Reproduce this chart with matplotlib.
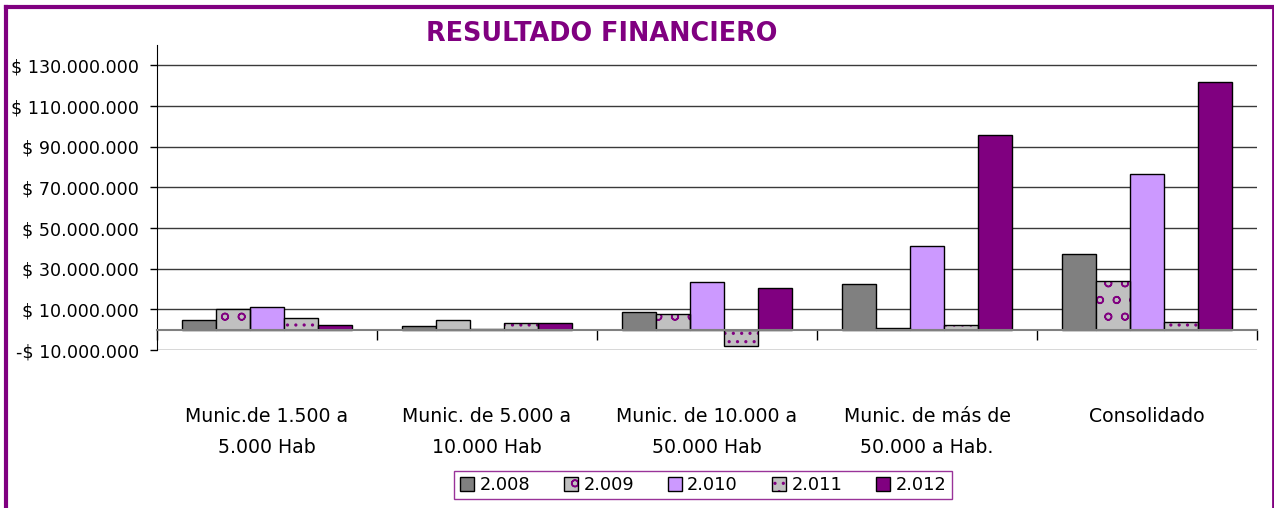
import matplotlib
matplotlib.use("Agg")
import matplotlib.pyplot as plt
import numpy as np
from matplotlib.lines import Line2D
from matplotlib.patches import Patch
from matplotlib.legend_handler import HandlerTuple
from matplotlib.ticker import FuncFormatter

categories = ["Munic.de 1.500 a\n5.000 Hab", "Munic. de 5.000 a\n10.000 Hab",
              "Munic. de 10.000 a\n50.000 Hab", "Munic. de más de\n50.000 a Hab.",
              "Consolidado"]
series_names = ["2.008", "2.009", "2.010", "2.011", "2.012"]
v2008 = [4.8e6, 1.8e6, 8.7e6, 22.3e6, 37.4e6]
v2009 = [10.2e6, 4.9e6, 7.9e6, 0.6e6, 24.1e6]
v2010 = [11.0e6, 0.5e6, 23.6e6, 41.0e6, 76.5e6]
v2011 = [5.9e6, 3.1e6, -8.2e6, 2.5e6, 3.6e6]
v2012 = [2.3e6, 3.1e6, 20.5e6, 95.7e6, 121.8e6]
series = [v2008, v2009, v2010, v2011, v2012]
yticks = [-10e6, 10e6, 30e6, 50e6, 70e6, 90e6, 110e6, 130e6]

colors = ["#808080", "#C0C0C0", "#CC99FF", "#C0C0C0", "#800080"]
hatches = [None, "o", None, "..", None]
PURPLE = "#800080"

plt.rcParams["font.family"] = ["DejaVu Sans"]
plt.rcParams["hatch.linewidth"] = 1.1

fig = plt.figure(figsize=(12.74, 5.08), dpi=100)
ax = fig.add_axes([157/1274, 1-350/508, 1100/1274, 305/508])

x = np.arange(len(categories))
w = 0.1545
handles = []
for j, (vals, c, h) in enumerate(zip(series, colors, hatches)):
    pos = x + (j - 2) * w
    if h:
        ax.bar(pos, vals, width=w, color=c, edgecolor=PURPLE, linewidth=0,
               hatch=h, zorder=3)
        ax.bar(pos, vals, width=w, fill=False, edgecolor="black",
               linewidth=1, zorder=4)
        hp = (Patch(facecolor=c, edgecolor=PURPLE, linewidth=0, hatch=h),
              Patch(fill=False, edgecolor="black", linewidth=1))
    else:
        ax.bar(pos, vals, width=w, color=c, edgecolor="black",
               linewidth=1, zorder=3)
        hp = (Patch(facecolor=c, edgecolor="black", linewidth=1),)
    handles.append(hp)

ax.set_xlim(-0.5, len(categories) - 0.5)
ax.set_ylim(-10e6, 140e6)
ax.set_yticks(yticks)

def fmt(v, pos):
    s = "{:,.0f}".format(abs(v)).replace(",", ".")
    return ("-$ " if v < 0 else "$ ") + s
ax.yaxis.set_major_formatter(FuncFormatter(fmt))
ax.tick_params(axis="y", labelsize=12.6, length=5, width=1, pad=8, colors="black")
ax.grid(axis="y", color="#3a3a3a", linewidth=1, zorder=0)
ax.set_axisbelow(True)

ax.spines["top"].set_visible(False)
ax.spines["right"].set_visible(False)
ax.spines["bottom"].set_position(("data", 0))
ax.spines["bottom"].set_color("#808080")
ax.spines["bottom"].set_linewidth(1.5)
ax.spines["bottom"].set_zorder(5)
ax.spines["left"].set_color("black")

ax.set_xticks(x)
ax.set_xticklabels(categories, fontsize=13.6, linespacing=1.75)
ax.set_xticks(np.arange(-0.5, len(categories)), minor=True)
ax.tick_params(axis="x", which="major", length=0, pad=56)
ax.tick_params(axis="x", which="minor", length=7, width=1, color="black")

fig.text(602/1274, 1-34/508, "RESULTADO FINANCIERO", ha="center", va="center",
         fontsize=18.4, fontweight="bold", color=PURPLE)

leg = fig.legend(handles, series_names, loc="center", ncol=5,
                 bbox_to_anchor=(703/1274, 1-485/508),
                 handler_map={tuple: HandlerTuple(ndivide=1)},
                 fontsize=12.8, frameon=True, fancybox=False,
                 handlelength=0.8, handleheight=0.8, handletextpad=0.3,
                 columnspacing=1.9, borderpad=0.3)
leg.get_frame().set_edgecolor(PURPLE)
leg.get_frame().set_linewidth(1)

# outer frame
fig.add_artist(Line2D([6.5/1274, 6.5/1274], [0, 1-6.5/508], color=PURPLE, lw=3,
                      transform=fig.transFigure))
fig.add_artist(Line2D([6.5/1274, 1272.5/1274], [1-6.5/508, 1-6.5/508], color=PURPLE,
                      lw=3, transform=fig.transFigure))
fig.add_artist(Line2D([1272.5/1274, 1272.5/1274], [0, 1-6.5/508], color=PURPLE,
                      lw=2, transform=fig.transFigure))

fig.savefig("out.png", dpi=100)
